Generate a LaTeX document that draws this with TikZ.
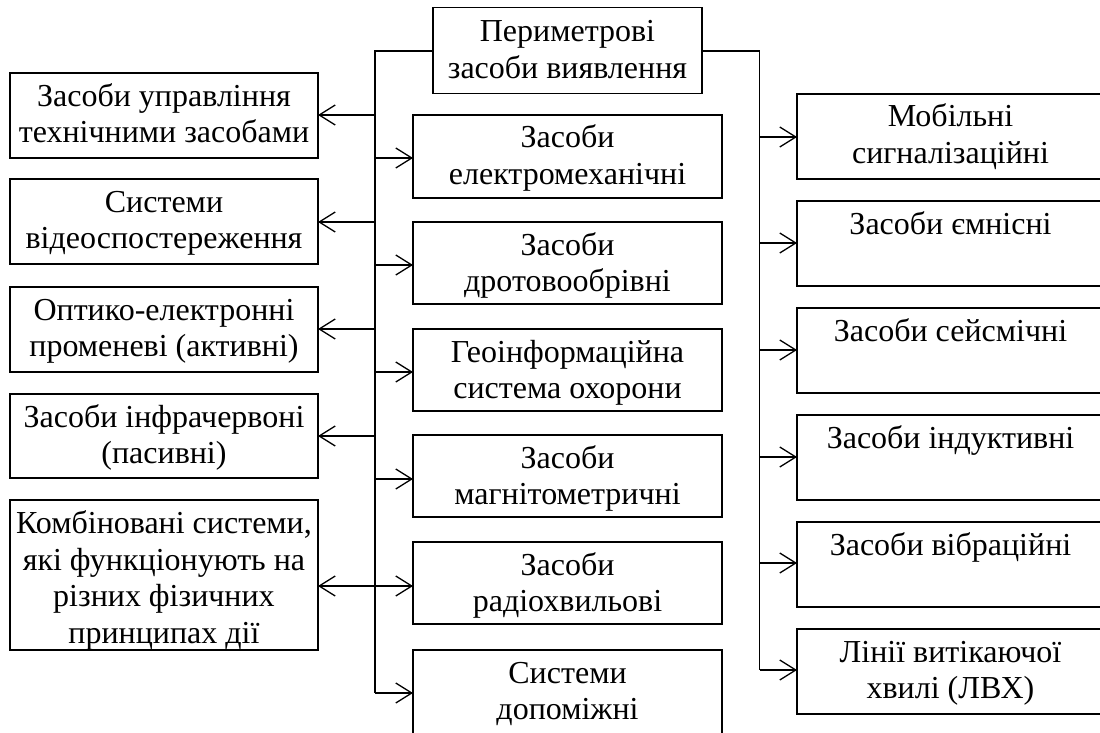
\documentclass[tikz,border=0pt]{standalone}
\usepackage{fontspec}
\setmainfont{Liberation Serif}
\usetikzlibrary{arrows.meta}
\newcommand\btext[4][33pt]{\parbox[c][#2][t]{#3}{\centering\fontsize{32}{36.5}\selectfont\rule{0pt}{#1}#4}}
\begin{document}
\begin{tikzpicture}[x=1pt,y=1pt,
  box/.style={draw, line width=1.3pt, inner sep=0pt, outer sep=0pt, anchor=north west},
  conn/.style={line width=1.3pt},
  arr/.style={line width=1.3pt, -{Straight Barb[length=16pt,width=20pt,line width=1.3pt]}}]
\useasboundingbox (0,0) rectangle (1100,-733);
% top
\node[box] (top) at (433,-7.5) {\btext[34.5pt]{86pt}{269pt}{Периметрові\\засоби виявлення}};
% left column
\node[box] (l1) at (10,-73) {\btext{85pt}{308pt}{Засоби управління\\технічними засобами}};
\node[box] (l2) at (10,-179) {\btext{85pt}{308pt}{Системи\\відеоспостереження}};
\node[box] (l3) at (10,-287) {\btext{85pt}{308pt}{Оптико-електронні\\променеві (активні)}};
\node[box] (l4) at (10,-394) {\btext{84pt}{308pt}{Засоби інфрачервоні\\(пасивні)}};
\node[box] (l5) at (10,-500) {\btext[33.5pt]{150pt}{308pt}{Комбіновані системи,\\які функціонують на\\різних фізичних\\принципах дії}};
% center column
\node[box] (c1) at (413,-115) {\btext{83pt}{309pt}{Засоби\\електромеханічні}};
\node[box] (c2) at (413,-222) {\btext{82pt}{309pt}{Засоби\\дротовообрівні}};
\node[box] (c3) at (413,-329) {\btext{82pt}{309pt}{Геоінформаційна\\система охорони}};
\node[box] (c4) at (413,-435) {\btext{82pt}{309pt}{Засоби\\магнітометричні}};
\node[box] (c5) at (413,-542) {\btext{82pt}{309pt}{Засоби\\радіохвильові}};
\node[box] (c6) at (413,-650) {\btext{100pt}{309pt}{Системи\\допоміжні}};
% right column
\node[box] (r1) at (797,-94) {\btext{85pt}{307pt}{Мобільні\\сигналізаційні}};
\node[box] (r2) at (797,-201) {\btext{85pt}{307pt}{Засоби ємнісні}};
\node[box] (r3) at (797,-308) {\btext{85pt}{307pt}{Засоби сейсмічні}};
\node[box] (r4) at (797,-415) {\btext{85pt}{307pt}{Засоби індуктивні}};
\node[box] (r5) at (797,-522) {\btext{85pt}{307pt}{Засоби вібраційні}};
\node[box] (r6) at (797,-629) {\btext{85pt}{307pt}{Лінії витікаючої\\хвилі (ЛВХ)}};
% trunks
\coordinate (LT) at (375,-51);
\coordinate (LB) at (375,-693);
\coordinate (RT) at (759.5,-51);
\coordinate (RB) at (759.5,-670);
\draw[conn] (top.west |- LT) -- (LT) -- (LB);
\draw[conn] (top.east |- RT) -- (RT) -- (RB);
% left branches
\coordinate (a1) at (375,-115);
\coordinate (a2) at (375,-222);
\coordinate (a3) at (375,-329);
\coordinate (a4) at (375,-436);
\coordinate (a5) at (375,-586);
\draw[arr] (a1) -- (a1 -| l1.east);
\draw[arr] (a2) -- (a2 -| l2.east);
\draw[arr] (a3) -- (a3 -| l3.east);
\draw[arr] (a4) -- (a4 -| l4.east);
\draw[arr] (a5) -- (a5 -| l5.east);
% center branches
\coordinate (b1) at (375,-158);
\coordinate (b2) at (375,-265);
\coordinate (b3) at (375,-372);
\coordinate (b4) at (375,-479);
\draw[arr] (b1) -- (b1 -| c1.west);
\draw[arr] (b2) -- (b2 -| c2.west);
\draw[arr] (b3) -- (b3 -| c3.west);
\draw[arr] (b4) -- (b4 -| c4.west);
\draw[arr] (a5) -- (a5 -| c5.west);
\draw[arr] (LB) -- (LB -| c6.west);
% right branches
\coordinate (d1) at (759.5,-137);
\coordinate (d2) at (759.5,-243);
\coordinate (d3) at (759.5,-350);
\coordinate (d4) at (759.5,-457);
\coordinate (d5) at (759.5,-563);
\draw[arr] (d1) -- (d1 -| r1.west);
\draw[arr] (d2) -- (d2 -| r2.west);
\draw[arr] (d3) -- (d3 -| r3.west);
\draw[arr] (d4) -- (d4 -| r4.west);
\draw[arr] (d5) -- (d5 -| r5.west);
\draw[arr] (RB) -- (RB -| r6.west);
\end{tikzpicture}
\end{document}
